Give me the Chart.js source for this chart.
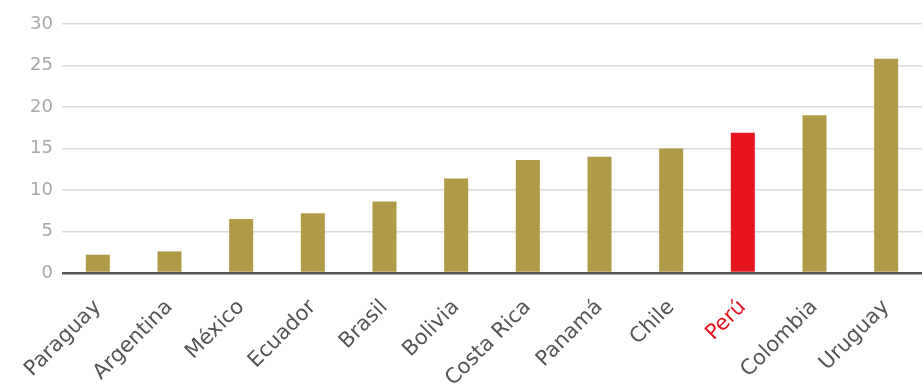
<!DOCTYPE html>
<html>
<head>
<meta charset="utf-8">
<script src="https://cdn.jsdelivr.net/npm/chart.js@4/dist/chart.umd.min.js"></script>
<style>
  html, body { margin: 0; padding: 0; background: #ffffff; }
  #wrap { width: 922px; height: 392px; position: relative; }
</style>
</head>
<body>
<div id="wrap"><canvas id="c" width="922" height="392"></canvas></div>
<script>
const categories = ["Paraguay", "Argentina", "México", "Ecuador", "Brasil", "Bolivia", "Costa Rica", "Panamá", "Chile", "Perú", "Colombia", "Uruguay"];
const values = [2.2, 2.6, 6.5, 7.2, 8.6, 11.4, 13.6, 14.0, 15.0, 16.9, 19.0, 25.8];
const highlight = "Perú";
const yTicks = [0, 5, 10, 15, 20, 25, 30];

const GOLD = "#b09a48";
const RED = "#e5141f";

new Chart(document.getElementById("c"), {
  type: "bar",
  data: {
    labels: categories,
    datasets: [{
      data: values,
      backgroundColor: categories.map(c => c === highlight ? RED : GOLD),
      borderWidth: 0,
      barPercentage: 0.67,
      categoryPercentage: 0.5
    }]
  },
  options: {
    responsive: false,
    animation: false,
    layout: { padding: { top: 24, right: 0, bottom: 0, left: 0 } },
    plugins: { legend: { display: false }, tooltip: { enabled: false } },
    scales: {
      x: {
        grid: { display: false, drawTicks: false },
        border: { display: false },
        ticks: {
          autoSkip: false,
          minRotation: 45,
          maxRotation: 45,
          padding: 22,
          color: ctx => categories[ctx.index] === highlight ? RED : "#555555",
          font: { family: "DejaVu Sans", size: 21 }
        },
        afterFit: s => { s.height = 119; s.paddingRight = 0; s.paddingLeft = 0; }
      },
      y: {
        min: 0,
        max: 30,
        afterBuildTicks: s => { s.ticks = yTicks.map(v => ({ value: v })); },
        grid: {
          drawTicks: false,
          color: ctx => ctx.tick && ctx.tick.value === 0 ? "#555555" : "#dcdcdc",
          lineWidth: ctx => ctx.tick && ctx.tick.value === 0 ? 2.5 : 1.5
        },
        border: { display: false },
        ticks: {
          padding: 9,
          color: "#a8a8a8",
          font: { family: "DejaVu Sans", size: 18 }
        },
        afterFit: s => { s.width = 62; }
      }
    }
  }
});
</script>
</body>
</html>
